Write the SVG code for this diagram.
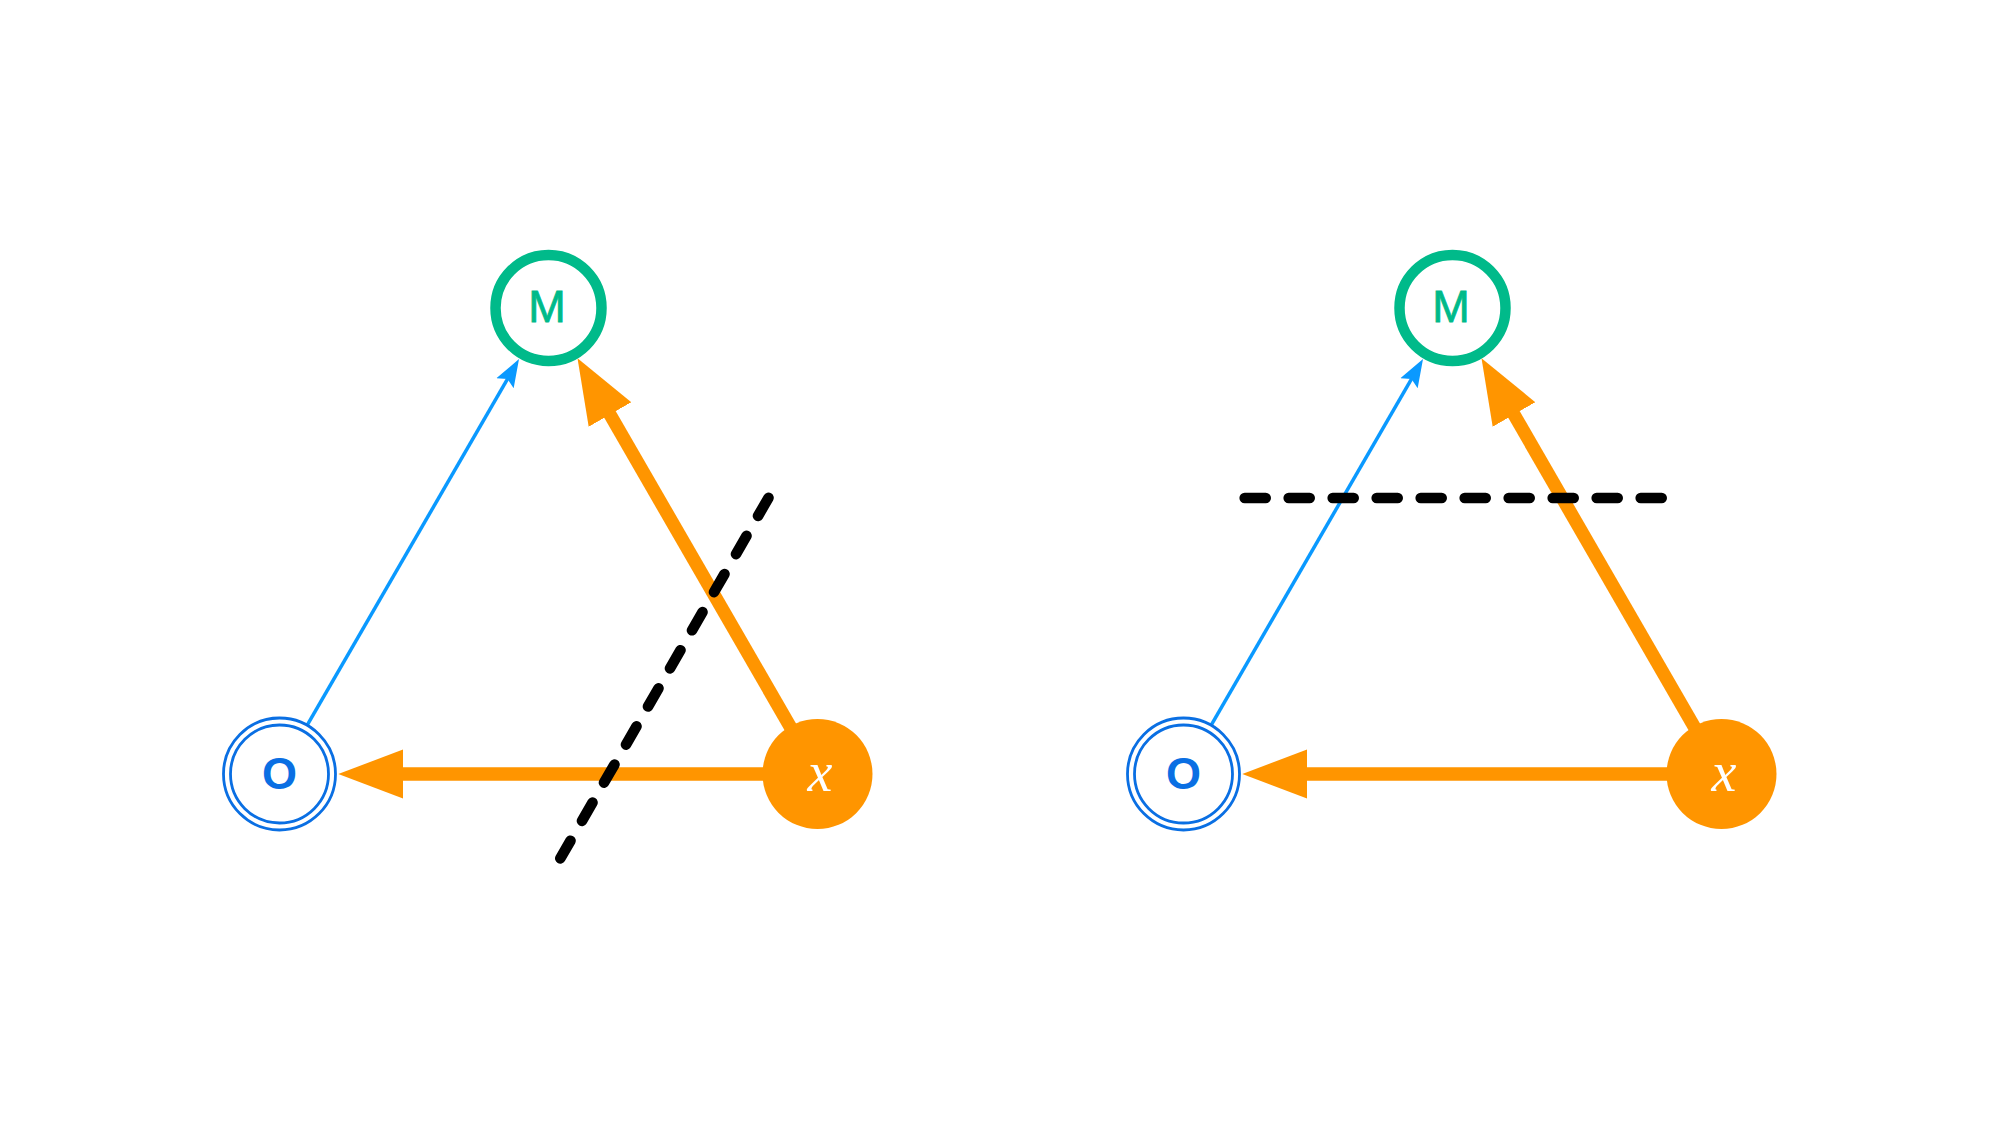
<svg xmlns="http://www.w3.org/2000/svg" width="1999" height="1125" viewBox="0 0 1999 1125">
  <style>
    .blue-edge { stroke: #0A99FF; stroke-width: 3.5; fill: none; }
    .orange-edge { stroke: #FF9500; stroke-width: 13.3; fill: none; }
    .cut { stroke: #000000; stroke-width: 10.6; stroke-linecap: round; stroke-dasharray: 21 23; fill: none; }
    .m-ring { fill: #FFFFFF; stroke: #00BA8A; stroke-width: 10.5; }
    .o-ring { fill: #FFFFFF; stroke: #0A6FE3; stroke-width: 2.8; }
    .x-disc { fill: #FF9500; stroke: none; }
    .m-label { font-family: "Liberation Sans", "DejaVu Sans", sans-serif; font-weight: 400; font-size: 45px; fill: #00BA8A; stroke: #00BA8A; stroke-width: 0.8; text-anchor: middle; }
    .o-label { font-family: "Liberation Sans", "DejaVu Sans", sans-serif; font-weight: 700; font-size: 45px; fill: #0A6FE3; text-anchor: middle; }
    .x-label { font-family: "Liberation Serif", "DejaVu Serif", serif; font-style: italic; font-size: 56px; fill: #FFFFFF; text-anchor: middle; }
  </style>
  <defs>
    <marker id="arrow-orange" markerUnits="userSpaceOnUse" viewBox="0 -26 66 52" refX="2" refY="0" markerWidth="66" markerHeight="52" orient="auto">
      <path d="M0,-24.6 L65,0 L0,24.6 Z" fill="#FF9500"/>
    </marker>
    <marker id="arrow-blue" markerUnits="userSpaceOnUse" viewBox="0 -11 29 22" refX="6" refY="0" markerWidth="29" markerHeight="22" orient="auto">
      <path d="M0,-10 L28,0 L0,10 L5,0 Z" fill="#0A99FF"/>
    </marker>
  </defs>
  <rect x="0" y="0" width="1999" height="1125" fill="#FFFFFF"/>

  <g id="connectors">
    <line id="edge-x-M-left" class="orange-edge" x1="817.5" y1="774" x2="609" y2="412.8" marker-end="url(#arrow-orange)"/>
    <line id="edge-x-O-left" class="orange-edge" x1="817.5" y1="774" x2="401.3" y2="774" marker-end="url(#arrow-orange)"/>
    <line id="edge-O-M-left" class="blue-edge" x1="307.5" y1="724.7" x2="508" y2="378.1" marker-end="url(#arrow-blue)"/>
    <line id="edge-x-M-right" class="orange-edge" x1="1721.5" y1="774" x2="1513" y2="412.8" marker-end="url(#arrow-orange)"/>
    <line id="edge-x-O-right" class="orange-edge" x1="1721.5" y1="774" x2="1305.3" y2="774" marker-end="url(#arrow-orange)"/>
    <line id="edge-O-M-right" class="blue-edge" x1="1211.5" y1="724.7" x2="1412" y2="378.1" marker-end="url(#arrow-blue)"/>
  </g>

  <g id="cuts">
    <line id="cut-left" class="cut" x1="768.5" y1="497.8" x2="560.3" y2="858.4"/>
    <line id="cut-right" class="cut" x1="1244.7" y1="498" x2="1661.7" y2="498"/>
  </g>

  <g id="node-M-left">
    <circle class="m-ring" cx="548.5" cy="308" r="53"/>
    <text class="m-label" x="547" y="321.8">M</text>
  </g>
  <g id="node-O-left">
    <circle class="o-ring" cx="279.5" cy="774" r="56"/>
    <circle class="o-ring" cx="279.5" cy="774" r="49"/>
    <text class="o-label" x="279.5" y="789">O</text>
  </g>
  <g id="node-x-left">
    <circle class="x-disc" cx="817.5" cy="774" r="55"/>
    <text class="x-label" x="820" y="791">x</text>
  </g>

  <g id="node-M-right">
    <circle class="m-ring" cx="1452.5" cy="308" r="53"/>
    <text class="m-label" x="1451" y="321.8">M</text>
  </g>
  <g id="node-O-right">
    <circle class="o-ring" cx="1183.5" cy="774" r="56"/>
    <circle class="o-ring" cx="1183.5" cy="774" r="49"/>
    <text class="o-label" x="1183.5" y="789">O</text>
  </g>
  <g id="node-x-right">
    <circle class="x-disc" cx="1721.5" cy="774" r="55"/>
    <text class="x-label" x="1724" y="791">x</text>
  </g>
</svg>
